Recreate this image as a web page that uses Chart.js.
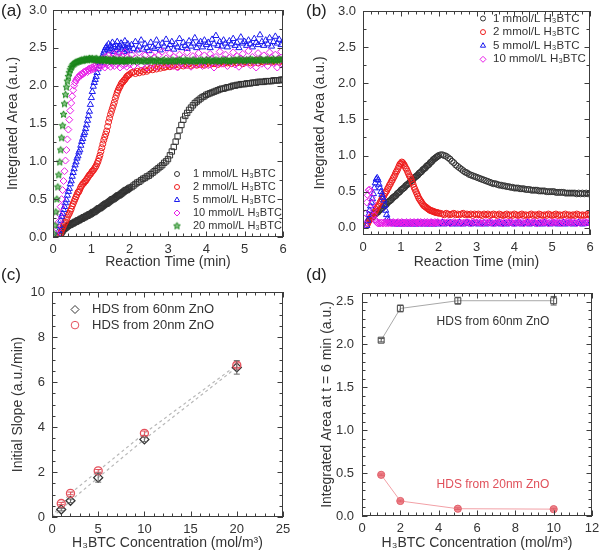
<!DOCTYPE html>
<html><head><meta charset="utf-8">
<script src="https://cdn.jsdelivr.net/npm/chart.js"></script>
<style>
body{margin:0;background:#fff;width:600px;height:559px;overflow:hidden;position:relative;font-family:"Liberation Sans",Arial,sans-serif;}
canvas{position:absolute;}
.lbl{position:absolute;font-size:17px;color:#222;line-height:1;}
.frm{position:absolute;box-sizing:border-box;border:1px solid #3c3c3c;pointer-events:none;z-index:4;}
.tk{position:absolute;background:#3c3c3c;pointer-events:none;z-index:4;}
</style></head><body>
<canvas id="ca" width="300" height="280" style="left:0;top:0"></canvas>
<canvas id="cb" width="300" height="280" style="left:300px;top:0"></canvas>
<canvas id="cc" width="300" height="279" style="left:0;top:280px"></canvas>
<canvas id="cd" width="300" height="279" style="left:300px;top:280px"></canvas>
<div class="frm" style="left:53px;top:10px;width:230px;height:227px"></div>
<div class="frm" style="left:363px;top:11px;width:227px;height:224px"></div>
<div class="frm" style="left:52px;top:292px;width:231px;height:225px"></div>
<div class="frm" style="left:362px;top:293px;width:230px;height:223px"></div>
<div class="lbl" style="left:1px;top:2px">(a)</div>
<div class="lbl" style="left:306px;top:2px">(b)</div>
<div class="lbl" style="left:1px;top:266px">(c)</div>
<div class="lbl" style="left:306px;top:266px">(d)</div>
<script>
// ---------- DATA ----------
const tA = [0,0.025,0.05,0.075,0.1,0.125,0.15,0.175,0.2,0.225,
0.25,0.275,0.3,0.325,0.35,0.375,0.4,0.425,0.45,0.475,
0.5,0.525,0.55,0.575,0.6,0.625,0.65,0.675,0.7,0.725,
0.75,0.775,0.8,0.825,0.85,0.875,0.9,0.925,0.95,0.975,
1,1.025,1.05,1.075,1.1,1.125,1.15,1.175,1.2,1.225,
1.25,1.275,1.3,1.325,1.35,1.375,1.4,1.425,1.45,1.475,
1.5,1.525,1.55,1.575,1.6,1.625,1.65,1.675,1.7,1.725,
1.75,1.775,1.8,1.825,1.85,1.875,1.9,1.925,1.95,1.975,
2,
2.05,2.1,2.15,2.2,2.25,2.3,2.35,2.4,2.45,2.5,
2.55,2.6,2.65,2.7,2.75,2.8,2.85,2.9,2.95,3,
3.05,3.1,3.15,3.2,3.25,3.3,3.35,3.4,3.45,3.5,
3.55,3.6,3.65,3.7,3.75,3.8,3.85,3.9,3.95,4,
4.05,4.1,4.15,4.2,4.25,4.3,4.35,4.4,4.45,4.5,
4.55,4.6,4.65,4.7,4.75,4.8,4.85,4.9,4.95,5,
5.05,5.1,5.15,5.2,5.25,5.3,5.35,5.4,5.45,5.5,
5.55,5.6,5.65,5.7,5.75,5.8,5.85,5.9,5.95,6];

const seriesLabels = ['1 mmol/L H\u2083BTC','2 mmol/L H\u2083BTC','5 mmol/L H\u2083BTC','10 mmol/L H\u2083BTC','20 mmol/L H\u2083BTC'];

// panel (a)
const a1 = [null,null,null,null,null,null,null,null,0.03,0.06,
0.08,0.1,0.11,0.12,0.13,0.14,0.15,0.16,0.16,0.17,
0.18,0.18,0.19,0.2,0.2,0.21,0.22,0.22,0.23,0.24,
0.24,0.25,0.26,0.26,0.27,0.28,0.28,0.29,0.3,0.3,
0.31,0.32,0.33,0.33,0.34,0.35,0.36,0.37,0.38,0.38,
0.39,0.4,0.41,0.42,0.43,0.44,0.44,0.45,0.46,0.47,
0.48,0.49,0.5,0.5,0.51,0.52,0.53,0.54,0.55,0.55,
0.56,0.57,0.58,0.59,0.6,0.61,0.62,0.62,0.63,0.64,
0.65,
0.66,0.68,0.7,0.72,0.73,0.75,0.77,0.78,0.8,0.81,
0.83,0.85,0.87,0.89,0.91,0.93,0.95,0.98,1.0,1.03,
1.08,1.13,1.19,1.26,1.33,1.41,1.48,1.55,1.6,1.64,
1.68,1.71,1.74,1.77,1.79,1.81,1.83,1.85,1.86,1.88,
1.89,1.9,1.91,1.92,1.93,1.94,1.95,1.96,1.96,1.97,
1.98,1.98,1.99,2.0,2.0,2.01,2.01,2.02,2.02,2.02,
2.03,2.03,2.03,2.04,2.04,2.04,2.05,2.05,2.05,2.05,
2.06,2.06,2.06,2.06,2.07,2.07,2.07,2.07,2.08,2.08];

const a2 = [null,null,null,null,null,null,null,0.01,0.05,0.09,
0.12,0.15,0.18,0.2,0.23,0.26,0.29,0.31,0.34,0.37,
0.41,0.44,0.47,0.5,0.53,0.56,0.59,0.6,0.63,0.66,
0.68,0.7,0.71,0.73,0.74,0.76,0.78,0.8,0.82,0.83,
0.85,0.87,0.88,0.9,0.92,0.94,0.97,1.0,1.04,1.08,
1.13,1.18,1.23,1.28,1.32,1.36,1.4,1.46,1.52,1.57,
1.62,1.66,1.7,1.74,1.78,1.83,1.87,1.91,1.94,1.97,
1.99,2.02,2.04,2.05,2.07,2.08,2.1,2.12,2.13,2.14,
2.15,
2.17,2.18,2.16,2.19,2.17,2.2,2.18,2.21,2.19,2.21,
2.23,2.21,2.24,2.22,2.25,2.23,2.26,2.24,2.25,2.27,
2.25,2.27,2.26,2.28,2.25,2.27,2.29,2.26,2.28,2.27,
2.29,2.26,2.28,2.3,2.27,2.29,2.28,2.3,2.27,2.29,
2.31,2.28,2.3,2.29,2.31,2.28,2.3,2.32,2.29,2.31,
2.3,2.32,2.29,2.31,2.33,2.3,2.32,2.31,2.29,2.32,
2.31,2.33,2.3,2.32,2.31,2.34,2.3,2.33,2.32,2.31,
2.33,2.32,2.34,2.31,2.33,2.32,2.34,2.31,2.33,2.34];

const a5 = [null,null,null,null,null,0.02,0.08,0.15,0.22,0.27,
0.31,0.36,0.4,0.45,0.49,0.55,0.6,0.64,0.7,0.74,
0.8,0.85,0.9,0.95,0.99,1.04,1.07,1.12,1.15,1.21,
1.26,1.3,1.35,1.38,1.43,1.48,1.54,1.6,1.66,1.75,
1.84,1.92,1.99,2.04,2.08,2.12,2.17,2.22,2.26,2.3,
2.34,2.37,2.4,2.44,2.47,2.5,2.52,2.48,2.55,2.46,
2.53,2.49,2.57,2.45,2.51,2.54,2.47,2.58,2.5,2.44,
2.52,2.56,2.48,2.53,2.45,2.59,2.5,2.47,2.55,2.51,
2.46,
2.54,2.49,2.58,2.47,2.52,2.6,2.48,2.55,2.5,2.46,
2.57,2.51,2.49,2.6,2.53,2.47,2.56,2.52,2.61,2.49,
2.54,2.58,2.48,2.55,2.51,2.62,2.5,2.57,2.53,2.49,
2.59,2.52,2.56,2.63,2.5,2.55,2.58,2.51,2.6,2.54,
2.57,2.5,2.61,2.55,2.66,2.53,2.58,2.52,2.6,2.56,
2.51,2.59,2.55,2.62,2.53,2.57,2.5,2.64,2.56,2.58,
2.53,2.6,2.55,2.51,2.62,2.57,2.54,2.67,2.58,2.53,
2.6,2.55,2.63,2.52,2.58,2.65,2.56,2.61,2.54,2.59];

const a10 = [null,null,null,null,0.02,0.1,0.2,0.3,0.4,0.5,
0.62,0.74,0.87,1.01,1.15,1.29,1.42,1.55,1.67,1.77,
1.86,1.94,2.0,2.04,2.07,2.09,2.11,2.12,2.14,2.13,
2.16,2.15,2.18,2.17,2.19,2.2,2.18,2.22,2.2,2.23,
2.21,2.24,2.22,2.26,2.23,2.27,2.25,2.3,2.24,2.28,
2.33,2.26,2.36,2.29,2.24,2.38,2.3,2.27,2.4,2.32,
2.25,2.37,2.29,2.42,2.26,2.34,2.39,2.28,2.43,2.31,
2.24,2.36,2.4,2.27,2.33,2.44,2.29,2.25,2.38,2.35,
2.28,
2.41,2.26,2.36,2.31,2.44,2.27,2.35,2.4,2.24,2.33,
2.42,2.29,2.37,2.25,2.4,2.32,2.45,2.28,2.36,2.3,
2.43,2.26,2.38,2.33,2.24,2.41,2.3,2.37,2.27,2.44,
2.32,2.25,2.39,2.35,2.28,2.43,2.31,2.26,2.4,2.34,
2.27,2.42,2.36,2.24,2.38,2.3,2.45,2.29,2.35,2.41,
2.26,2.37,2.32,2.44,2.28,2.39,2.25,2.36,2.42,2.3,
2.34,2.46,2.27,2.38,2.31,2.24,2.43,2.35,2.29,2.4,
2.33,2.26,2.44,2.37,2.3,2.41,2.24,2.36,2.45,2.28];

const a20 = [null,0.04,0.15,0.33,0.5,0.66,0.82,0.99,1.15,1.31,
1.47,1.62,1.76,1.88,1.98,2.06,2.12,2.17,2.21,2.24,
2.26,2.28,2.29,2.3,2.31,2.31,2.32,2.32,2.33,2.33,
2.34,2.33,2.34,2.35,2.34,2.35,2.34,2.35,2.36,2.35,
2.35,2.36,2.34,2.35,2.34,2.36,2.35,2.33,2.34,2.35,
2.34,2.33,2.35,2.34,2.33,2.34,2.35,2.33,2.34,2.33,
2.34,2.32,2.33,2.35,2.34,2.33,2.34,2.32,2.33,2.34,
2.33,2.34,2.32,2.33,2.34,2.33,2.32,2.34,2.33,2.34,
2.33,
2.34,2.32,2.33,2.34,2.33,2.32,2.34,2.33,2.32,2.33,
2.34,2.33,2.32,2.34,2.33,2.32,2.33,2.34,2.32,2.33,
2.32,2.34,2.33,2.32,2.33,2.34,2.33,2.32,2.34,2.33,
2.33,2.32,2.34,2.33,2.32,2.33,2.34,2.33,2.32,2.34,
2.33,2.34,2.32,2.33,2.34,2.33,2.32,2.34,2.33,2.34,
2.33,2.32,2.34,2.33,2.34,2.33,2.35,2.33,2.34,2.33,
2.34,2.33,2.35,2.34,2.33,2.34,2.33,2.35,2.34,2.33,
2.34,2.35,2.33,2.34,2.35,2.33,2.34,2.35,2.34,2.35];

// panel (b)
const b1 = [null,null,null,null,null,null,0.1,0.12,0.13,0.14,
0.15,0.16,0.18,0.19,0.2,0.21,0.22,0.24,0.25,0.26,
0.27,0.28,0.3,0.31,0.32,0.33,0.35,0.36,0.37,0.38,
0.39,0.41,0.42,0.43,0.44,0.45,0.47,0.48,0.49,0.5,
0.52,0.53,0.54,0.55,0.56,0.58,0.59,0.6,0.61,0.62,
0.64,0.65,0.66,0.67,0.69,0.7,0.71,0.72,0.73,0.75,
0.76,0.77,0.78,0.8,0.81,0.82,0.83,0.85,0.86,0.87,
0.88,0.9,0.91,0.92,0.94,0.95,0.96,0.97,0.98,0.99,
1.0,
1.01,1.01,1.0,0.99,0.97,0.95,0.92,0.9,0.87,0.85,
0.83,0.81,0.79,0.77,0.76,0.74,0.73,0.72,0.71,0.7,
0.69,0.68,0.67,0.66,0.65,0.64,0.63,0.62,0.61,0.61,
0.6,0.59,0.59,0.58,0.58,0.57,0.57,0.56,0.56,0.55,
0.55,0.55,0.54,0.54,0.54,0.53,0.53,0.53,0.52,0.52,
0.52,0.52,0.51,0.51,0.51,0.51,0.5,0.5,0.5,0.5,
0.5,0.49,0.49,0.49,0.49,0.49,0.48,0.48,0.48,0.48,
0.48,0.48,0.47,0.48,0.47,0.48,0.47,0.48,0.47,0.48];

const b2 = [null,null,null,null,0.03,0.06,0.09,0.11,0.13,0.15,
0.17,0.19,0.21,0.23,0.25,0.28,0.3,0.32,0.35,0.37,
0.4,0.42,0.44,0.47,0.49,0.51,0.54,0.56,0.59,0.61,
0.64,0.66,0.69,0.71,0.74,0.77,0.79,0.82,0.85,0.88,
0.89,0.91,0.9,0.88,0.86,0.83,0.81,0.78,0.75,0.72,
0.7,0.67,0.63,0.6,0.56,0.53,0.5,0.47,0.44,0.41,
0.39,0.37,0.35,0.33,0.31,0.3,0.29,0.28,0.27,0.26,
0.25,0.24,0.24,0.23,0.23,0.22,0.22,0.21,0.21,0.21,
0.2,
0.2,0.19,0.18,0.2,0.19,0.18,0.19,0.2,0.18,0.19,
0.18,0.19,0.2,0.18,0.19,0.18,0.19,0.17,0.19,0.18,
0.19,0.18,0.17,0.19,0.18,0.19,0.17,0.18,0.19,0.18,
0.17,0.19,0.18,0.17,0.18,0.19,0.17,0.18,0.17,0.19,
0.18,0.17,0.18,0.19,0.17,0.18,0.17,0.18,0.19,0.17,
0.18,0.17,0.19,0.18,0.17,0.18,0.17,0.19,0.18,0.17,
0.18,0.19,0.17,0.18,0.17,0.18,0.19,0.17,0.18,0.17,
0.18,0.17,0.19,0.18,0.17,0.18,0.17,0.18,0.19,0.18];

const b5 = [null,null,null,null,0.03,0.1,0.18,0.24,0.3,0.35,
0.4,0.47,0.55,0.62,0.67,0.69,0.66,0.6,0.55,0.5,
0.46,0.42,0.38,0.31,0.24,0.18,0.13,0.1,0.08,0.07,
0.06,0.07,0.06,0.06,0.05,0.06,0.07,0.06,0.05,0.06,
0.06,0.05,0.07,0.06,0.06,0.05,0.06,0.07,0.06,0.05,
0.06,0.06,0.07,0.05,0.06,0.06,0.05,0.07,0.06,0.06,
0.05,0.06,0.07,0.06,0.05,0.06,0.06,0.07,0.05,0.06,
0.06,0.05,0.06,0.07,0.06,0.05,0.06,0.06,0.07,0.05,
0.06,
0.06,0.07,0.05,0.06,0.06,0.07,0.05,0.06,0.06,0.05,
0.07,0.06,0.05,0.06,0.07,0.06,0.05,0.06,0.06,0.07,
0.05,0.06,0.06,0.07,0.05,0.06,0.07,0.06,0.05,0.06,
0.06,0.07,0.05,0.06,0.06,0.05,0.07,0.06,0.06,0.05,
0.06,0.07,0.06,0.05,0.06,0.06,0.07,0.05,0.06,0.06,
0.07,0.05,0.06,0.06,0.05,0.07,0.06,0.06,0.05,0.06,
0.07,0.06,0.05,0.06,0.06,0.07,0.05,0.06,0.06,0.07,
0.05,0.06,0.06,0.07,0.06,0.05,0.06,0.07,0.06,0.06];

const b10 = [null,null,0.05,0.2,0.35,0.45,0.52,0.53,0.5,0.42,
0.34,0.25,0.17,0.11,0.08,0.07,0.06,0.07,0.06,0.07,
0.07,0.06,0.07,0.08,0.06,0.07,0.07,0.06,0.08,0.07,
0.06,0.07,0.08,0.07,0.06,0.07,0.07,0.08,0.06,0.07,
0.07,0.08,0.06,0.07,0.07,0.06,0.08,0.07,0.07,0.06,
0.08,0.07,0.06,0.07,0.08,0.07,0.07,0.06,0.08,0.07,
0.07,0.08,0.06,0.07,0.07,0.08,0.06,0.07,0.08,0.07,
0.06,0.07,0.08,0.07,0.07,0.06,0.08,0.07,0.07,0.08,
0.07,
0.06,0.08,0.07,0.07,0.08,0.06,0.07,0.08,0.07,0.07,
0.08,0.06,0.07,0.07,0.08,0.07,0.06,0.08,0.07,0.07,
0.08,0.07,0.06,0.07,0.08,0.07,0.07,0.08,0.06,0.07,
0.07,0.08,0.07,0.06,0.08,0.07,0.07,0.08,0.07,0.06,
0.08,0.07,0.07,0.08,0.06,0.07,0.08,0.07,0.07,0.08,
0.07,0.06,0.08,0.07,0.07,0.08,0.07,0.06,0.08,0.07,
0.07,0.08,0.07,0.07,0.06,0.08,0.07,0.08,0.07,0.07,
0.08,0.07,0.06,0.08,0.07,0.07,0.08,0.07,0.08,0.07];

// panel (c)
const concC = [1, 2, 5, 10, 20];
const slope60 = [0.33, 0.72, 1.75, 3.45, 6.65];
const slope60Err = [0.06, 0.08, 0.2, 0.1, 0.3];
const slope20 = [0.6, 1.05, 2.05, 3.72, 6.75];
const slope20Err = [0.05, 0.06, 0.06, 0.1, 0.1];
const labelsC = ['HDS from 60nm ZnO', 'HDS from 20nm ZnO'];

// panel (d)
const concD = [1, 2, 5, 10];
const area60 = [2.05, 2.42, 2.51, 2.51];
const area60Err = [0.02, 0.04, 0.04, 0.05];
const area20 = [0.48, 0.175, 0.085, 0.08];
const area20Err = [0.01, 0.01, 0.01, 0.01];

// ---------- helpers ----------
const FONT = '"Liberation Sans", Arial, sans-serif';
const TXT = '#333';
const FRAME_COLOR = '#3c3c3c';
function pts(xs, ys) { const o = []; xs.forEach((x, i) => { if (ys[i] !== null && ys[i] !== undefined) o.push({x: x, y: ys[i]}); }); return o; }

function starImg(color, fill, r) {
  const c = document.createElement('canvas'); const s = Math.ceil(r * 2 + 3); c.width = s; c.height = s;
  const g = c.getContext('2d'); g.strokeStyle = color; g.fillStyle = fill; g.lineWidth = 1;
  g.beginPath();
  for (let k = 0; k < 10; k++) { const an = -Math.PI / 2 + k * Math.PI / 5; const rr = (k % 2) ? r * 0.45 : r; g.lineTo(s / 2 + rr * Math.cos(an), s / 2 + rr * Math.sin(an)); }
  g.closePath(); g.fill(); g.stroke();
  return c;
}

// tick mark list (value, length) for one axis
function tickMarks(min, max, major, minor) {
  const out = [];
  const s = Math.ceil(min / minor - 1e-6), e = Math.floor(max / minor + 1e-6);
  for (let k = s; k <= e; k++) { const v = k * minor; const r = v / major; out.push([v, Math.abs(r - Math.round(r)) < 1e-6 ? 5 : 3]); }
  return out;
}

// canvas frame + inward ticks on all four sides, placed with the chart's scales
function drawFrame(chart, o) {
  const ctx = chart.ctx, a = chart.chartArea, x = chart.scales.x, y = chart.scales.y;
  ctx.save(); ctx.setLineDash([]); ctx.globalAlpha = 1; ctx.strokeStyle = FRAME_COLOR; ctx.lineWidth = 1;
  const L = Math.round(a.left) + 0.5, R = Math.round(a.right) - 0.5, T = Math.round(a.top) + 0.5, B = Math.round(a.bottom) - 0.5;
  ctx.beginPath();
  ctx.moveTo(L, T); ctx.lineTo(R, T); ctx.lineTo(R, B); ctx.lineTo(L, B); ctx.closePath();
  tickMarks(x.min, x.max, o.xMajor, o.xMinor).forEach(([v, len]) => { const p = Math.round(x.getPixelForValue(v)) + 0.5; ctx.moveTo(p, B); ctx.lineTo(p, B - len); ctx.moveTo(p, T); ctx.lineTo(p, T + len); });
  tickMarks(y.min, y.max, o.yMajor, o.yMinor).forEach(([v, len]) => { const p = Math.round(y.getPixelForValue(v)) + 0.5; ctx.moveTo(L, p); ctx.lineTo(L + len, p); ctx.moveTo(R, p); ctx.lineTo(R - len, p); });
  ctx.stroke(); ctx.restore();
}

// same ticks as small page elements (fallback layer), positioned from the chart's scales
function addTickDivs(chart, o, offL, offT) {
  const a = chart.chartArea, x = chart.scales.x, y = chart.scales.y;
  const Lp = Math.round(a.left), Rp = Math.round(a.right) - 1, Tp = Math.round(a.top), Bp = Math.round(a.bottom) - 1;
  const frag = document.createDocumentFragment();
  const mk = (l, t, w, h) => { const d = document.createElement('div'); d.className = 'tk'; d.style.left = (offL + l) + 'px'; d.style.top = (offT + t) + 'px'; d.style.width = w + 'px'; d.style.height = h + 'px'; frag.appendChild(d); };
  tickMarks(x.min, x.max, o.xMajor, o.xMinor).forEach(([v, len]) => { const p = Math.round(x.getPixelForValue(v)); mk(p, Bp - len + 1, 1, len); mk(p, Tp, 1, len); });
  tickMarks(y.min, y.max, o.yMajor, o.yMinor).forEach(([v, len]) => { const p = Math.round(y.getPixelForValue(v)); mk(Lp, p, len, 1); mk(Rp - len + 1, p, len, 1); });
  document.body.appendChild(frag);
}

function drawErrors(chart) {
  const {ctx, scales: {x, y}} = chart;
  chart.data.datasets.forEach(d => {
    if (!d.errors) return;
    ctx.save(); ctx.setLineDash([]); ctx.strokeStyle = d.errColor || d.borderColor; ctx.lineWidth = 1;
    ctx.beginPath();
    d.data.forEach((p, i) => {
      const e = d.errors[i]; if (!e) return;
      const px = x.getPixelForValue(p.x), y1 = y.getPixelForValue(p.y - e), y2 = y.getPixelForValue(p.y + e);
      ctx.moveTo(px, y1); ctx.lineTo(px, y2);
      ctx.moveTo(px - 3, y1); ctx.lineTo(px + 3, y1); ctx.moveTo(px - 3, y2); ctx.lineTo(px + 3, y2);
    });
    ctx.stroke(); ctx.restore();
  });
}

function drawLegend(chart, o) {
  const ctx = chart.ctx; ctx.save(); ctx.setLineDash([]); ctx.font = o.font; ctx.textBaseline = 'middle'; ctx.textAlign = 'left';
  o.items.forEach((it, i) => {
    const yy = o.y + i * o.dy;
    ctx.save();
    ctx.strokeStyle = it.color; ctx.fillStyle = 'rgba(0,0,0,0)'; ctx.lineWidth = 1;
    Chart.helpers.drawPoint(ctx, {pointStyle: it.style, radius: it.r, rotation: 0, borderWidth: 1}, o.x, yy);
    ctx.restore();
    ctx.fillStyle = TXT; ctx.fillText(it.text, o.tx, yy);
  });
  ctx.restore();
}

function drawNotes(chart, o) {
  const {ctx, scales: {x, y}} = chart; ctx.save(); ctx.font = o.font; ctx.textAlign = 'center'; ctx.textBaseline = 'middle';
  o.items.forEach(it => { ctx.fillStyle = it.color; ctx.fillText(it.text, x.getPixelForValue(it.x), y.getPixelForValue(it.y)); });
  ctx.restore();
}

function overlayPlugin(c) {
  return { id: 'overlay', afterDraw(chart) {
    const run = fn => { try { fn(); } catch (err) { /* keep drawing the rest */ } };
    run(() => drawErrors(chart));
    if (c.legend) run(() => drawLegend(chart, c.legend));
    if (c.notes) run(() => drawNotes(chart, c.notes));
    run(() => drawFrame(chart, c.frame));
  }};
}

function makeChart(id, datasets, c) {
  const cv = document.getElementById(id);
  const chart = new Chart(cv, {
    type: 'scatter',
    data: {datasets},
    options: {
      responsive: false, animation: false, devicePixelRatio: 1,
      layout: {padding: {left: 0, right: c.padR, top: c.padT, bottom: 0}},
      plugins: {legend: {display: false}, tooltip: {enabled: false}},
      scales: {
        x: {type: 'linear', min: c.xMin, max: c.xMax,
          grid: {display: false, drawTicks: false}, border: {display: false},
          ticks: {stepSize: c.xStep, includeBounds: false, autoSkip: false, maxRotation: 0, padding: 5,
            font: {family: FONT, size: 13}, color: TXT, callback: c.xFmt},
          title: {display: true, text: c.xTitle, color: TXT, font: {family: FONT, size: 14}, padding: {top: 0, bottom: c.xTitlePad}},
          afterFit: s => { s.height = c.xH; s.paddingLeft = 0; s.paddingRight = 0; }},
        y: {type: 'linear', min: c.yMin, max: c.yMax,
          grid: {display: false, drawTicks: false}, border: {display: false},
          ticks: {stepSize: c.yStep, includeBounds: false, autoSkip: false, padding: c.yTickPad,
            font: {family: FONT, size: 13}, color: TXT, callback: c.yFmt},
          title: {display: true, text: c.yTitle, color: TXT, font: {family: FONT, size: 14}, padding: {top: c.yTitlePad, bottom: 0}},
          afterFit: s => { s.width = c.yW; s.paddingTop = 0; s.paddingBottom = 0; }}
      }
    },
    plugins: [overlayPlugin(c)]
  });
  try { addTickDivs(chart, c.frame, c.offL, c.offT); } catch (err) { /* canvas ticks remain */ }
  return chart;
}

const fix1 = v => Number(v).toFixed(1);
const fix0 = v => String(Math.round(v));

const COL = {k: '#333333', r: '#ee1c1c', b: '#1a1aee', m: '#e81ee8', g: '#1a851a'};
const star = starImg(COL.g, 'rgba(40,150,40,0.55)', 3.6);

function ds(data, color, style, r, order) {
  return {data, borderColor: color, backgroundColor: 'rgba(0,0,0,0)', pointStyle: style, pointRadius: r, pointBorderWidth: 1, order, showLine: false};
}

// ---------- (a) ----------
makeChart('ca', [
  ds(pts(tA, a20), COL.g, star, 3.6, 0),
  ds(pts(tA, a10), COL.m, 'rectRot', 3.5, 1),
  ds(pts(tA, a5), COL.b, 'triangle', 3.6, 2),
  ds(pts(tA, a2), COL.r, 'circle', 3, 3),
  ds(pts(tA, a1), COL.k, 'rect', 3.8, 4)
], {offL: 0, offT: 0, padR: 17, padT: 10, xH: 43, yW: 53, xMin: 0, xMax: 6, xStep: 1, yMin: 0, yMax: 3, yStep: 0.5,
  xFmt: fix0, yFmt: fix1, xTitle: 'Reaction Time (min)', yTitle: 'Integrated Area (a.u.)',
  xTitlePad: 9, yTitlePad: 4.6, yTickPad: 6,
  frame: {xMajor: 1, xMinor: 0.2, yMajor: 0.5, yMinor: 0.25},
  legend: {font: '11px ' + FONT, x: 177, tx: 193, y: 174, dy: 13, items: [
    {text: seriesLabels[0], color: COL.k, style: 'circle', r: 2.5},
    {text: seriesLabels[1], color: COL.r, style: 'circle', r: 2.5},
    {text: seriesLabels[2], color: COL.b, style: 'triangle', r: 3},
    {text: seriesLabels[3], color: COL.m, style: 'rectRot', r: 3},
    {text: seriesLabels[4], color: COL.g, style: star, r: 3}
  ]}
});

// ---------- (b) ----------
makeChart('cb', [
  ds(pts(tA, b10), COL.m, 'rectRot', 3.5, 0),
  ds(pts(tA, b5), COL.b, 'triangle', 3.6, 1),
  ds(pts(tA, b2), COL.r, 'circle', 3, 2),
  ds(pts(tA, b1), COL.k, 'circle', 3, 3)
], {offL: 300, offT: 0, padR: 10, padT: 11, xH: 45, yW: 63, xMin: 0, xMax: 6, xStep: 1, yMin: -0.1, yMax: 3, yStep: 0.5,
  xFmt: fix0, yFmt: fix1, xTitle: 'Reaction Time (min)', yTitle: 'Integrated Area (a.u.)',
  xTitlePad: 9, yTitlePad: 12, yTickPad: 7,
  frame: {xMajor: 1, xMinor: 0.2, yMajor: 0.5, yMinor: 0.25},
  legend: {font: '11.5px ' + FONT, x: 183, tx: 193, y: 18.5, dy: 13.6, items: [
    {text: seriesLabels[0], color: COL.k, style: 'circle', r: 2.5},
    {text: seriesLabels[1], color: COL.r, style: 'circle', r: 2.5},
    {text: seriesLabels[2], color: COL.b, style: 'triangle', r: 3},
    {text: seriesLabels[3], color: COL.m, style: 'rectRot', r: 3}
  ]}
});

// ---------- (c) ----------
const RED_C = '#e4505c';
makeChart('cc', [
  {data: [{x: 0, y: 0}].concat(pts(concC, slope20)), showLine: true, borderColor: '#b8b8b8', borderWidth: 1.2, borderDash: [3, 3], pointRadius: 0, order: 5},
  {data: [{x: 0, y: 0}].concat(pts(concC, slope60)), showLine: true, borderColor: '#b8b8b8', borderWidth: 1.2, borderDash: [3, 3], pointRadius: 0, order: 6},
  Object.assign(ds(pts(concC, slope20), RED_C, 'circle', 4, 0), {pointBorderWidth: 1.3, errors: slope20Err}),
  Object.assign(ds(pts(concC, slope60), '#333', 'rectRot', 4.5, 1), {pointBorderWidth: 1.3, errors: slope60Err, errColor: '#666'})
], {offL: 0, offT: 280, padR: 17, padT: 12, xH: 42, yW: 52, xMin: 0, xMax: 25, xStep: 5, yMin: 0, yMax: 10, yStep: 2,
  xFmt: fix0, yFmt: fix0, xTitle: 'H\u2083BTC Concentration (mol/m\u00B3)', yTitle: 'Initial Slope (a.u./min)',
  xTitlePad: 7.5, yTitlePad: 10, yTickPad: 7,
  frame: {xMajor: 5, xMinor: 1, yMajor: 2, yMinor: 0.5},
  legend: {font: '13px ' + FONT, x: 75, tx: 92, y: 29.5, dy: 15.6, items: [
    {text: labelsC[0], color: '#333', style: 'rectRot', r: 4},
    {text: labelsC[1], color: RED_C, style: 'circle', r: 3.8}
  ]}
});

// ---------- (d) ----------
makeChart('cd', [
  Object.assign(ds(pts(concD, area60), '#444', 'rect', 4.2, 0), {showLine: true, borderWidth: 1, pointBorderColor: '#444', borderColor: '#a8a8a8', errors: area60Err, errColor: '#555'}),
  {data: pts(concD, area20), showLine: true, borderColor: '#f2a0a6', borderWidth: 1, pointStyle: 'circle', pointRadius: 3.6,
    pointBorderColor: '#e0606a', pointBackgroundColor: '#f08890', pointBorderWidth: 1, order: 1, errors: area20Err, errColor: '#e0606a'}
], {offL: 300, offT: 280, padR: 8, padT: 13, xH: 43, yW: 62, xMin: 0, xMax: 12, xStep: 2, yMin: 0, yMax: 2.6, yStep: 0.5,
  xFmt: fix0, yFmt: fix1, xTitle: 'H\u2083BTC Concentration (mol/m\u00B3)', yTitle: 'Integrated Area at t = 6 min (a.u.)',
  xTitlePad: 7.5, yTitlePad: 18.5, yTickPad: 8,
  frame: {xMajor: 2, xMinor: 0.4, yMajor: 0.5, yMinor: 0.1},
  notes: {font: '12px ' + FONT, items: [
    {text: labelsC[0], x: 6.83, y: 2.27, color: '#333'},
    {text: labelsC[1], x: 6.83, y: 0.37, color: '#e0505a'}
  ]}
});
</script>
</body></html>
